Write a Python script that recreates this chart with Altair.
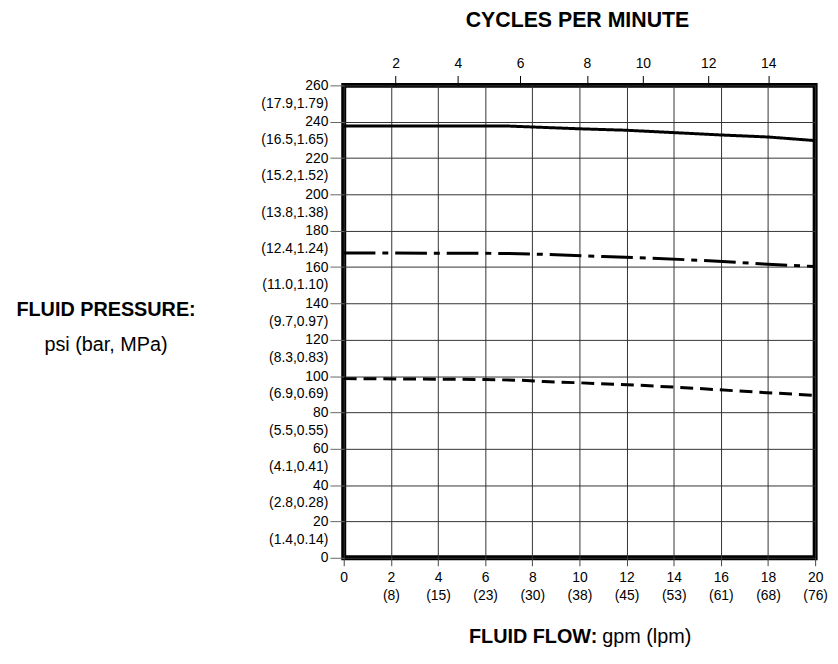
import altair as alt
import pandas as pd

# ---- axis ticks / labels ----
gpm_ticks = [0, 2, 4, 6, 8, 10, 12, 14, 16, 18, 20]
lpm_labels = ["", "(8)", "(15)", "(23)", "(30)", "(38)", "(45)", "(53)", "(61)", "(68)", "(76)"]

psi_ticks = [0, 20, 40, 60, 80, 100, 120, 140, 160, 180, 200, 220, 240, 260]
bar_mpa_labels = ["", "(1.4,0.14)", "(2.8,0.28)", "(4.1,0.41)", "(5.5,0.55)", "(6.9,0.69)",
                  "(8.3,0.83)", "(9.7,0.97)", "(11.0,1.10)", "(12.4,1.24)", "(13.8,1.38)",
                  "(15.2,1.52)", "(16.5,1.65)", "(17.9,1.79)"]

cycle_tick_gpm = [2.20, 4.84, 7.48, 10.32, 12.69, 15.46, 18.01]
cycle_labels = ["2", "4", "6", "8", "10", "12", "14"]

# ---- curves ----
solid_gpm = [0, 7, 8, 10, 12, 14, 16, 18, 20]
solid_psi = [237.6, 237.6, 237.1, 236.1, 235.3, 234.0, 232.7, 231.6, 229.6]

dashdot_gpm = [0, 7, 9, 11, 13, 15.5, 17.8, 20]
dashdot_psi = [167.8, 167.5, 166.8, 165.8, 164.9, 163.5, 161.7, 160.3]

dashed_gpm = [0, 4, 6, 7.5, 8.5, 10, 12.5, 15, 17.5, 20]
dashed_psi = [98.6, 98.3, 98.1, 97.7, 97.0, 96.3, 95.0, 93.2, 91.2, 89.4]

series_names = ["solid", "dashdot", "dashed"]

rows = []
for name, xs, ys in zip(series_names,
                        [solid_gpm, dashdot_gpm, dashed_gpm],
                        [solid_psi, dashdot_psi, dashed_psi]):
    for x, y in zip(xs, ys):
        rows.append({"series": name, "gpm": x, "psi": y})
df = pd.DataFrame(rows)


def q(s):
    return "'" + s + "'"


def build_expr(vals, labels, multiline_first):
    expr = "''"
    for v, l in reversed(list(zip(vals, labels))):
        if l == "" or not multiline_first:
            lab = q(str(v) if multiline_first else l)
        else:
            lab = "[" + q(str(v)) + "," + q(l) + "]"
        expr = f"abs(datum.value - {v}) < 0.01 ? {lab} : ({expr})"
    return expr


bottom_expr = build_expr(gpm_ticks, lpm_labels, True)
left_expr = build_expr(psi_ticks, bar_mpa_labels, True)
top_expr = build_expr(cycle_tick_gpm, cycle_labels, False)

FONT = "Liberation Sans"

x_scale = alt.Scale(domain=[0, 20], nice=False, zero=False)
y_scale = alt.Scale(domain=[0, 260], nice=False)

lines = alt.Chart(df).mark_line(strokeWidth=3, strokeCap="butt", color="black").encode(
    x=alt.X("gpm:Q", scale=x_scale,
            axis=alt.Axis(orient="bottom", values=gpm_ticks, labelExpr=bottom_expr, title=None,
                          grid=True, gridColor="#333", gridWidth=1, gridOpacity=1,
                          tickSize=8, tickColor="#444", labelPadding=5, labelFontSize=14,
                          labelLineHeight=18, domain=False, labelAngle=0, labelFlush=False,
                          labelOverlap=False, labelFont=FONT, labelColor="black")),
    y=alt.Y("psi:Q", scale=y_scale,
            axis=alt.Axis(values=psi_ticks, labelExpr=left_expr, title=None,
                          grid=True, gridColor="#333", gridWidth=1, gridOpacity=1,
                          tickSize=14, tickColor="#666", labelPadding=2, labelBaseline="top",
                          labelOffset=-7, labelLineHeight=18, labelFontSize=14, domain=False,
                          labelFlush=False, labelOverlap=False, labelAlign="right",
                          labelFont=FONT, labelColor="black")),
    strokeDash=alt.StrokeDash("series:N",
                              scale=alt.Scale(domain=series_names,
                                              range=[[1, 0], [32, 7, 6, 7], [13, 7]]),
                              legend=None),
)

top_df = pd.DataFrame({"gpm": cycle_tick_gpm})
top_axis = alt.Chart(top_df).mark_point(opacity=0).encode(
    x=alt.X("gpm:Q", scale=x_scale,
            axis=alt.Axis(orient="top", values=cycle_tick_gpm, labelExpr=top_expr, title=None,
                          grid=False, tickSize=10, tickColor="black", labelPadding=5,
                          labelFontSize=14, domain=False, labelFlush=False, labelOverlap=False,
                          labelFont=FONT, labelColor="black")),
)


def text_layer(s, x, y, size, weight="normal", align="center"):
    return alt.Chart(pd.DataFrame({"t": [s]})).mark_text(
        font=FONT, fontSize=size, fontWeight=weight, align=align, baseline="middle",
        color="black"
    ).encode(text="t:N", x=alt.value(x), y=alt.value(y))


t_cycles = text_layer("CYCLES PER MINUTE", 236, -65, 21.5, "bold")
t_flow_b = text_layer("FLUID FLOW:", 256, 557, 20, "bold", "right")
t_flow_n = text_layer("gpm  (lpm)", 261, 557, 20, "normal", "left")
t_pres_b = text_layer("FLUID PRESSURE:", -240, 227, 20, "bold")
t_pres_n = text_layer("psi  (bar,  MPa)", -240, 262, 20, "normal")

chart = alt.layer(lines, top_axis, t_cycles, t_flow_b, t_flow_n, t_pres_b, t_pres_n).resolve_axis(
    x="independent"
).properties(
    width=476, height=477,
    autosize=alt.AutoSizeParams(type="none"),
    padding={"left": 339, "top": 75, "right": 15, "bottom": 90},
).configure_view(stroke="black", strokeWidth=5)

chart.save("out.html", embed_options={"renderer": "svg", "actions": False})
